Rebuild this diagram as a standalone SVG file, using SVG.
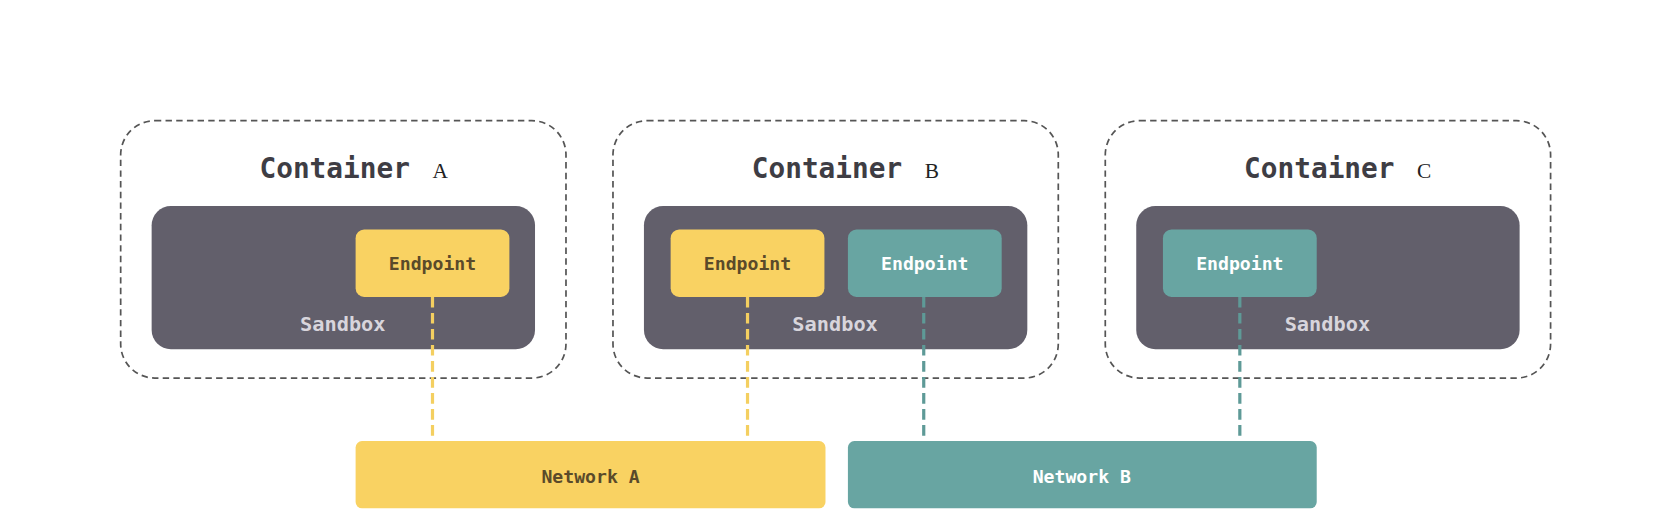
<svg xmlns="http://www.w3.org/2000/svg" width="1666" height="515" viewBox="0 0 1666 515">
<style>
.cont{fill:none;stroke:#555;stroke-width:1.6;stroke-dasharray:6,4}
.sb{fill:#625f6b}
.y{fill:#f9d262}
.t{fill:#68a5a2}
.title{font-family:"DejaVu Sans Mono",monospace;font-weight:bold;font-size:26px;fill:#3e3d44}
.let{font-family:"Liberation Serif",serif;font-size:20px;fill:#222}
.sbt{font-family:"DejaVu Sans Mono",monospace;font-weight:bold;font-size:19px;fill:#d8d5dc;text-anchor:middle}
.ep{font-family:"DejaVu Sans Mono",monospace;font-weight:bold;font-size:17px;text-anchor:middle}
.dk{fill:#5a4a2a}.wh{fill:#ffffff}
.ly{stroke:#f4cf60;stroke-width:3;stroke-dasharray:10,5;fill:none}
.lt{stroke:#5e9a97;stroke-width:3;stroke-dasharray:10,5;fill:none}
</style>
<rect width="1666" height="515" fill="#fff"/>
<g transform="scale(1.0679)">
<g id="containerA">
<rect class="cont" x="113" y="113" width="417" height="241" rx="32"/>
<text class="title" x="243" y="167">Container</text><text class="let" x="405" y="167">A</text>
<rect class="sb" x="142" y="193" width="359" height="134" rx="18"/>
<text class="sbt" x="321" y="310">Sandbox</text>
</g>
<g id="endpointA1"><rect class="y" x="333" y="215" width="144" height="63" rx="8"/><text class="ep dk" x="405" y="253">Endpoint</text></g>
<g id="containerB">
<rect class="cont" x="574" y="113" width="417" height="241" rx="32"/>
<text class="title" x="704" y="167">Container</text><text class="let" x="866" y="167">B</text>
<rect class="sb" x="603" y="193" width="359" height="134" rx="18"/>
<text class="sbt" x="782" y="310">Sandbox</text>
</g>
<g id="endpointB1"><rect class="y" x="628" y="215" width="144" height="63" rx="8"/><text class="ep dk" x="700" y="253">Endpoint</text></g>
<g id="endpointB2"><rect class="t" x="794" y="215" width="144" height="63" rx="8"/><text class="ep wh" x="866" y="253">Endpoint</text></g>
<g id="containerC">
<rect class="cont" x="1035" y="113" width="417" height="241" rx="32"/>
<text class="title" x="1165" y="167">Container</text><text class="let" x="1327" y="167">C</text>
<rect class="sb" x="1064" y="193" width="359" height="134" rx="18"/>
<text class="sbt" x="1243" y="310">Sandbox</text>
</g>
<g id="endpointC1"><rect class="t" x="1089" y="215" width="144" height="63" rx="8"/><text class="ep wh" x="1161" y="253">Endpoint</text></g>
<g id="connectors">
<line class="ly" x1="405" y1="278" x2="405" y2="413"/>
<line class="ly" x1="700" y1="278" x2="700" y2="413"/>
<line class="lt" x1="865" y1="278" x2="865" y2="413"/>
<line class="lt" x1="1161" y1="278" x2="1161" y2="413"/>
</g>
<g id="networkA"><rect class="y" x="333" y="413" width="440" height="63" rx="6"/><text class="ep dk" x="553" y="452">Network A</text></g>
<g id="networkB"><rect class="t" x="794" y="413" width="439" height="63" rx="6"/><text class="ep wh" x="1013" y="452">Network B</text></g>
</g>
</svg>
